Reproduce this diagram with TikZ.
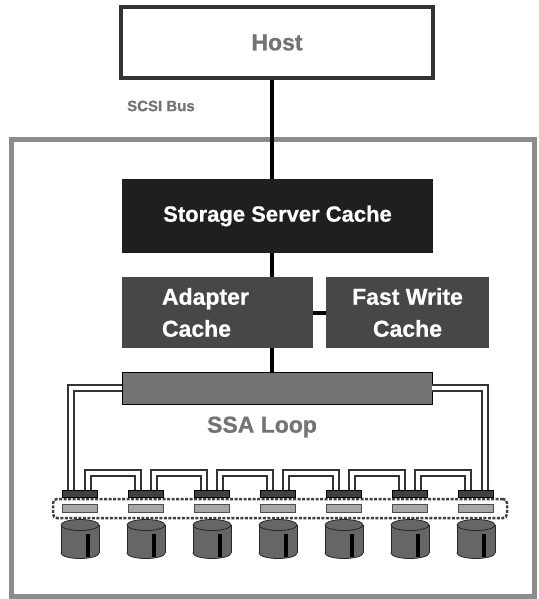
\documentclass[tikz,border=0pt]{standalone}
\usepackage{fontspec}
\setmainfont{Liberation Sans}[BoldFeatures={FakeBold=0.8}]
\usepackage{tikz}

\begin{document}
\begin{tikzpicture}[x=1pt, y=-1pt,
    caja/.style={inner sep=0pt, align=center, text=white,
      font=\bfseries\fontsize{23}{32}\selectfont},
    rotulo/.style={inner sep=0pt, text=labelGray,
      font=\bfseries\fontsize{23}{26}\selectfont},
    bus/.style={line width=4pt, black},
    tubo/.style={draw=pipeGray, line width=2pt, double=white, double distance=4pt},
    puerto/.style={draw=black, fill=portDark, minimum width=35pt,
      minimum height=7pt, inner sep=0pt},
    ranura/.style={draw=black!70, fill=slotGray, minimum width=35pt,
      minimum height=8pt, inner sep=0pt}]
  \def\paso{66}
  \colorlet{labelGray}{black!55}
  \colorlet{frameGray}{black!45}
  \colorlet{cacheBlack}{black!88}
  \colorlet{adapterGray}{black!72}
  \colorlet{barGray}{black!55}
  \colorlet{portDark}{black!75}
  \colorlet{slotGray}{black!35}
  \colorlet{trayGray}{black!75}
  \colorlet{pipeGray}{black!80}
  \colorlet{diskGray}{black!60}

  \useasboundingbox (0,0) rectangle (538,599);
  \draw[frameGray, line width=5pt] (11,139) rectangle (534,596);

  \node[caja, draw=black!80, line width=4pt, text=labelGray,
    minimum width=312pt, minimum height=71pt] (host) at (277,42.5) {Host};
  \node[rotulo, font=\bfseries\fontsize{15}{17}\selectfont, anchor=west]
    (scsi) at (127,106) {SCSI Bus};
  \node[caja, fill=cacheBlack, minimum width=311pt, minimum height=74pt,
    font=\bfseries\fontsize{22}{26}\selectfont] (ssc) at (277.5,216) {Storage Server Cache};
  \node[caja, fill=adapterGray, minimum width=191pt, minimum height=71pt,
    text width=111pt, align=left] (adapter) at (217.5,312.5) {Adapter\\Cache};
  \node[caja, fill=adapterGray, minimum width=163pt, minimum height=71pt]
    (fwc) at (407.5,312.5) {Fast Write\\Cache};
  \node[draw=black, fill=barGray, minimum width=310pt, minimum height=32pt,
    inner sep=0pt] (ssa) at (277,388) {};
  \node[rotulo] (loop) at (262,427) {SSA Loop};

  \coordinate (eje) at (272,0);
  \draw[bus] (host.south -| eje) -- (ssc.north -| eje);
  \draw[bus] (ssc.south -| eje) -- (adapter.north -| eje);
  \draw[bus] (adapter.south -| eje) -- (ssa.north -| eje);
  \draw[bus] (adapter.east) -- (fwc.west);

  \node[draw=trayGray, line width=2.5pt, dash pattern=on 3pt off 1.5pt,
    rounded corners=4pt, minimum width=454pt, minimum height=19pt,
    inner sep=0pt] (bandeja) at (280,508.5) {};
  \foreach \i in {1,...,7} {
    \node[puerto] (p\i) at ({80+\paso*(\i-1)},493.5) {};
    \node[ranura] (r\i) at ({80+\paso*(\i-1)},508) {};
  }

  \draw[tubo] (ssa.west) -| ([xshift=9pt]p1.north west);
  \draw[tubo] (ssa.east) -| ([xshift=-9pt]p7.north east);
  \foreach \i [evaluate=\i as \j using int(\i+1)] in {1,...,6}
    \draw[tubo] ([xshift=-10pt]p\i.north east) -- ++(0,-17)
      -| ([xshift=10pt]p\j.north west);

  \foreach \i in {1,...,7} {
    \pgfmathsetmacro\cx{80+\paso*(\i-1)}
    \filldraw[fill=diskGray, draw=black!85, line width=0.8pt]
      (\cx,553) ellipse [x radius=19, y radius=5.5];
    \fill[diskGray] (\cx-19,525) rectangle (\cx+19,553);
    \draw[black!85, line width=0.8pt] (\cx-19,525) -- (\cx-19,553)
      (\cx+19,525) -- (\cx+19,553);
    \filldraw[fill=diskGray, draw=black!85, line width=0.8pt]
      (\cx,525) ellipse [x radius=19, y radius=5.5];
    \fill[black] (\cx+6,534) rectangle (\cx+10,557);
  }
\end{tikzpicture}
\end{document}
